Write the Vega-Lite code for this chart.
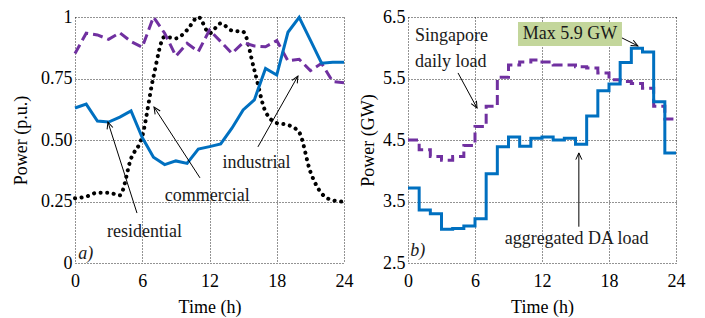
{
  "$schema": "https://vega.github.io/schema/vega-lite/v6.json",
  "padding": {"left": 12, "top": 8, "right": 5, "bottom": 5},
  "background": "#ffffff",
  "spacing": 64,
  "bounds": "flush",
  "config": {
    "font": "Liberation Serif",
    "view": {"stroke": null},
    "text": {"font": "Liberation Serif", "fontSize": 18, "color": "#1a1a1a"},
    "axis": {
      "labelFont": "Liberation Serif", "titleFont": "Liberation Serif",
      "labelFontSize": 18, "titleFontSize": 18, "titleFontWeight": "normal",
      "labelColor": "#000", "titleColor": "#000",
      "grid": true, "gridColor": "#000", "gridDash": [1, 2], "gridWidth": 1, "gridOpacity": 0.85,
      "domain": false, "ticks": false
    },
    "axisX": {"labelPadding": 9, "titlePadding": 8, "labelFlush": false},
    "axisY": {"labelPadding": 3}
  },
  "datasets": {
    "res": [
      {"h": 0, "v": 0.630}, {"h": 1, "v": 0.646}, {"h": 2, "v": 0.577}, {"h": 3, "v": 0.573}, {"h": 4, "v": 0.593},
      {"h": 5, "v": 0.618}, {"h": 6, "v": 0.510}, {"h": 7, "v": 0.430}, {"h": 8, "v": 0.400}, {"h": 9, "v": 0.415},
      {"h": 10, "v": 0.405}, {"h": 11, "v": 0.463}, {"h": 12, "v": 0.473}, {"h": 13, "v": 0.484}, {"h": 14, "v": 0.548},
      {"h": 15, "v": 0.622}, {"h": 16, "v": 0.663}, {"h": 17, "v": 0.791}, {"h": 18, "v": 0.764}, {"h": 19, "v": 0.938},
      {"h": 20, "v": 0.999}, {"h": 21, "v": 0.906}, {"h": 22, "v": 0.812}, {"h": 23, "v": 0.816}, {"h": 24, "v": 0.816}
    ],
    "ind": [
      {"h": 0, "v": 0.852}, {"h": 1, "v": 0.934}, {"h": 2, "v": 0.927}, {"h": 3, "v": 0.909}, {"h": 4, "v": 0.936},
      {"h": 5, "v": 0.900}, {"h": 6, "v": 0.877}, {"h": 7, "v": 1.0}, {"h": 8, "v": 0.934}, {"h": 9, "v": 0.841},
      {"h": 10, "v": 0.893}, {"h": 11, "v": 0.859}, {"h": 12, "v": 0.947}, {"h": 13, "v": 0.900}, {"h": 14, "v": 0.852},
      {"h": 15, "v": 0.896}, {"h": 16, "v": 0.882}, {"h": 17, "v": 0.879}, {"h": 18, "v": 0.904}, {"h": 19, "v": 0.822},
      {"h": 20, "v": 0.828}, {"h": 21, "v": 0.782}, {"h": 22, "v": 0.812}, {"h": 23, "v": 0.737}, {"h": 24, "v": 0.733}
    ],
    "com": [
      {"h": 0, "v": 0.263}, {"h": 1, "v": 0.270}, {"h": 2, "v": 0.286}, {"h": 3, "v": 0.286}, {"h": 4, "v": 0.275},
      {"h": 5, "v": 0.425}, {"h": 6, "v": 0.515}, {"h": 7, "v": 0.757}, {"h": 8, "v": 0.920}, {"h": 9, "v": 0.913},
      {"h": 10, "v": 0.947}, {"h": 11, "v": 1.0}, {"h": 12, "v": 0.934}, {"h": 13, "v": 0.974}, {"h": 14, "v": 0.945},
      {"h": 15, "v": 0.940}, {"h": 16, "v": 0.785}, {"h": 17, "v": 0.615}, {"h": 18, "v": 0.569}, {"h": 19, "v": 0.561},
      {"h": 20, "v": 0.531}, {"h": 21, "v": 0.371}, {"h": 22, "v": 0.283}, {"h": 23, "v": 0.255}, {"h": 24, "v": 0.249}
    ],
    "sg": [
      {"h": 0, "v": 4.50}, {"h": 1, "v": 4.34}, {"h": 2, "v": 4.23}, {"h": 3, "v": 4.17}, {"h": 4, "v": 4.23},
      {"h": 5, "v": 4.41}, {"h": 6, "v": 4.72}, {"h": 7, "v": 5.05}, {"h": 8, "v": 5.52}, {"h": 9, "v": 5.72},
      {"h": 10, "v": 5.77}, {"h": 11, "v": 5.80}, {"h": 12, "v": 5.77}, {"h": 13, "v": 5.72}, {"h": 14, "v": 5.72},
      {"h": 15, "v": 5.69}, {"h": 16, "v": 5.67}, {"h": 17, "v": 5.59}, {"h": 18, "v": 5.48}, {"h": 19, "v": 5.45},
      {"h": 20, "v": 5.42}, {"h": 21, "v": 5.34}, {"h": 22, "v": 5.05}, {"h": 23, "v": 4.84}, {"h": 24, "v": 4.84}
    ],
    "da": [
      {"h": 0, "v": 3.72}, {"h": 1, "v": 3.36}, {"h": 2, "v": 3.30}, {"h": 3, "v": 3.05}, {"h": 4, "v": 3.06},
      {"h": 5, "v": 3.10}, {"h": 6, "v": 3.22}, {"h": 7, "v": 3.95}, {"h": 8, "v": 4.39}, {"h": 9, "v": 4.55},
      {"h": 10, "v": 4.40}, {"h": 11, "v": 4.53}, {"h": 12, "v": 4.55}, {"h": 13, "v": 4.50}, {"h": 14, "v": 4.53},
      {"h": 15, "v": 4.43}, {"h": 16, "v": 4.89}, {"h": 17, "v": 5.30}, {"h": 18, "v": 5.41}, {"h": 19, "v": 5.76},
      {"h": 20, "v": 5.99}, {"h": 21, "v": 5.93}, {"h": 22, "v": 5.12}, {"h": 23, "v": 4.29}, {"h": 24, "v": 4.29}
    ],
    "leftText": [
      {"h": 6.2, "v": 0.126, "t": "residential"},
      {"h": 11.8, "v": 0.272, "t": "commercial"},
      {"h": 16.2, "v": 0.406, "t": "industrial"}
    ],
    "leftArrows": [
      {"h": 5.53, "v": 0.203, "h2": 2.94, "v2": 0.573, "dir": -17.7},
      {"h": 11.15, "v": 0.346, "h2": 7.05, "v2": 0.634, "dir": -33},
      {"h": 16.32, "v": 0.472, "h2": 19.89, "v2": 0.76, "dir": 29.4}
    ],
    "rightText": [
      {"h": 0.63, "v": 6.19, "t": "Singapore"},
      {"h": 0.63, "v": 5.77, "t": "daily load"}
    ],
    "rightText2": [
      {"h": 15.1, "v": 2.89, "t": "aggregated DA load"}
    ],
    "box": [
      {"h": 9.85, "h2": 19.16, "v": 6.42, "v2": 6.03, "t": "Max  5.9 GW", "hc": 14.5, "vc": 6.225}
    ],
    "rightArrows": [
      {"h": 4.48, "v": 5.59, "h2": 6.18, "v2": 5.02, "dir": 151.5},
      {"h": 19.16, "v": 6.16, "h2": 20.59, "v2": 6.03, "dir": 116.6},
      {"h": 15.3, "v": 3.09, "h2": 15.3, "v2": 4.29, "dir": 0}
    ]
  },
  "hconcat": [
    {
      "width": 269,
      "height": 246,
      "encoding": {
        "x": {"field": "h", "type": "quantitative", "scale": {"domain": [0, 24], "nice": false},
              "axis": {"values": [0, 6, 12, 18, 24], "title": "Time (h)", "titleFontWeight": "normal"}},
        "y": {"field": "v", "type": "quantitative", "scale": {"domain": [0, 1], "nice": false},
              "axis": {"values": [0, 0.25, 0.5, 0.75, 1], "title": "Power (p.u.)", "titlePadding": 10, "titleFontWeight": "normal",
                       "labelExpr": "datum.value == 0 ? '0' : datum.value == 1 ? '1' : format(datum.value, '.2f')"}}
      },
      "layer": [
        {"data": {"name": "com"}, "mark": {"type": "line", "color": "#000", "strokeWidth": 4, "strokeDash": [0.1, 6.5], "strokeCap": "round", "interpolate": "monotone"}},
        {"data": {"name": "ind"}, "mark": {"type": "line", "color": "#7030A0", "strokeWidth": 3, "strokeDash": [10, 5]}},
        {"data": {"name": "res"}, "mark": {"type": "line", "color": "#0070C0", "strokeWidth": 3}},
        {"data": {"name": "leftArrows"}, "mark": {"type": "rule", "color": "#000", "strokeWidth": 1},
         "encoding": {"x2": {"field": "h2"}, "y2": {"field": "v2"}}},
        {"data": {"name": "leftArrows"}, "mark": {"type": "point", "shape": "M-0.45,1L0,0L0.45,1", "filled": false, "stroke": "#000", "strokeWidth": 1, "size": 180, "opacity": 1},
         "encoding": {"x": {"field": "h2", "type": "quantitative"}, "y": {"field": "v2", "type": "quantitative"},
                      "angle": {"field": "dir", "type": "quantitative", "scale": null}}},
        {"data": {"name": "leftText"}, "mark": {"type": "text", "align": "center", "baseline": "middle"},
         "encoding": {"text": {"field": "t"}}},
        {"data": {"values": [{"h": 0.3, "v": 0.037, "t": "a)"}]}, "mark": {"type": "text", "align": "left", "baseline": "middle", "fontStyle": "italic"},
         "encoding": {"text": {"field": "t"}}}
      ]
    },
    {
      "width": 268,
      "height": 246,
      "encoding": {
        "x": {"field": "h", "type": "quantitative", "scale": {"domain": [0, 24], "nice": false},
              "axis": {"values": [0, 6, 12, 18, 24], "title": "Time (h)", "titleFontWeight": "normal"}},
        "y": {"field": "v", "type": "quantitative", "scale": {"domain": [2.5, 6.5], "nice": false},
              "axis": {"values": [2.5, 3.5, 4.5, 5.5, 6.5], "format": ".1f", "title": "Power (GW)", "titlePadding": 5, "titleFontWeight": "normal"}}
      },
      "layer": [
        {"data": {"name": "box"}, "mark": {"type": "rect", "color": "#C3D69B"},
         "encoding": {"x2": {"field": "h2"}, "y2": {"field": "v2"}}},
        {"data": {"name": "box"}, "mark": {"type": "text", "align": "center", "baseline": "middle"},
         "encoding": {"x": {"field": "hc", "type": "quantitative"}, "y": {"field": "vc", "type": "quantitative"}, "text": {"field": "t"}}},
        {"data": {"name": "sg"}, "mark": {"type": "line", "color": "#7030A0", "strokeWidth": 3, "strokeDash": [10, 5], "interpolate": "step-after"}},
        {"data": {"name": "da"}, "mark": {"type": "line", "color": "#0070C0", "strokeWidth": 3, "interpolate": "step-after"}},
        {"data": {"name": "rightArrows"}, "mark": {"type": "rule", "color": "#000", "strokeWidth": 1},
         "encoding": {"x2": {"field": "h2"}, "y2": {"field": "v2"}}},
        {"data": {"name": "rightArrows"}, "mark": {"type": "point", "shape": "M-0.45,1L0,0L0.45,1", "filled": false, "stroke": "#000", "strokeWidth": 1, "size": 180, "opacity": 1},
         "encoding": {"x": {"field": "h2", "type": "quantitative"}, "y": {"field": "v2", "type": "quantitative"},
                      "angle": {"field": "dir", "type": "quantitative", "scale": null}}},
        {"data": {"name": "rightText"}, "mark": {"type": "text", "align": "left", "baseline": "middle"},
         "encoding": {"text": {"field": "t"}}},
        {"data": {"name": "rightText2"}, "mark": {"type": "text", "align": "center", "baseline": "middle"},
         "encoding": {"text": {"field": "t"}}},
        {"data": {"values": [{"h": 0.2, "v": 2.69, "t": "b)"}]}, "mark": {"type": "text", "align": "left", "baseline": "middle", "fontStyle": "italic"},
         "encoding": {"text": {"field": "t"}}}
      ]
    }
  ]
}
